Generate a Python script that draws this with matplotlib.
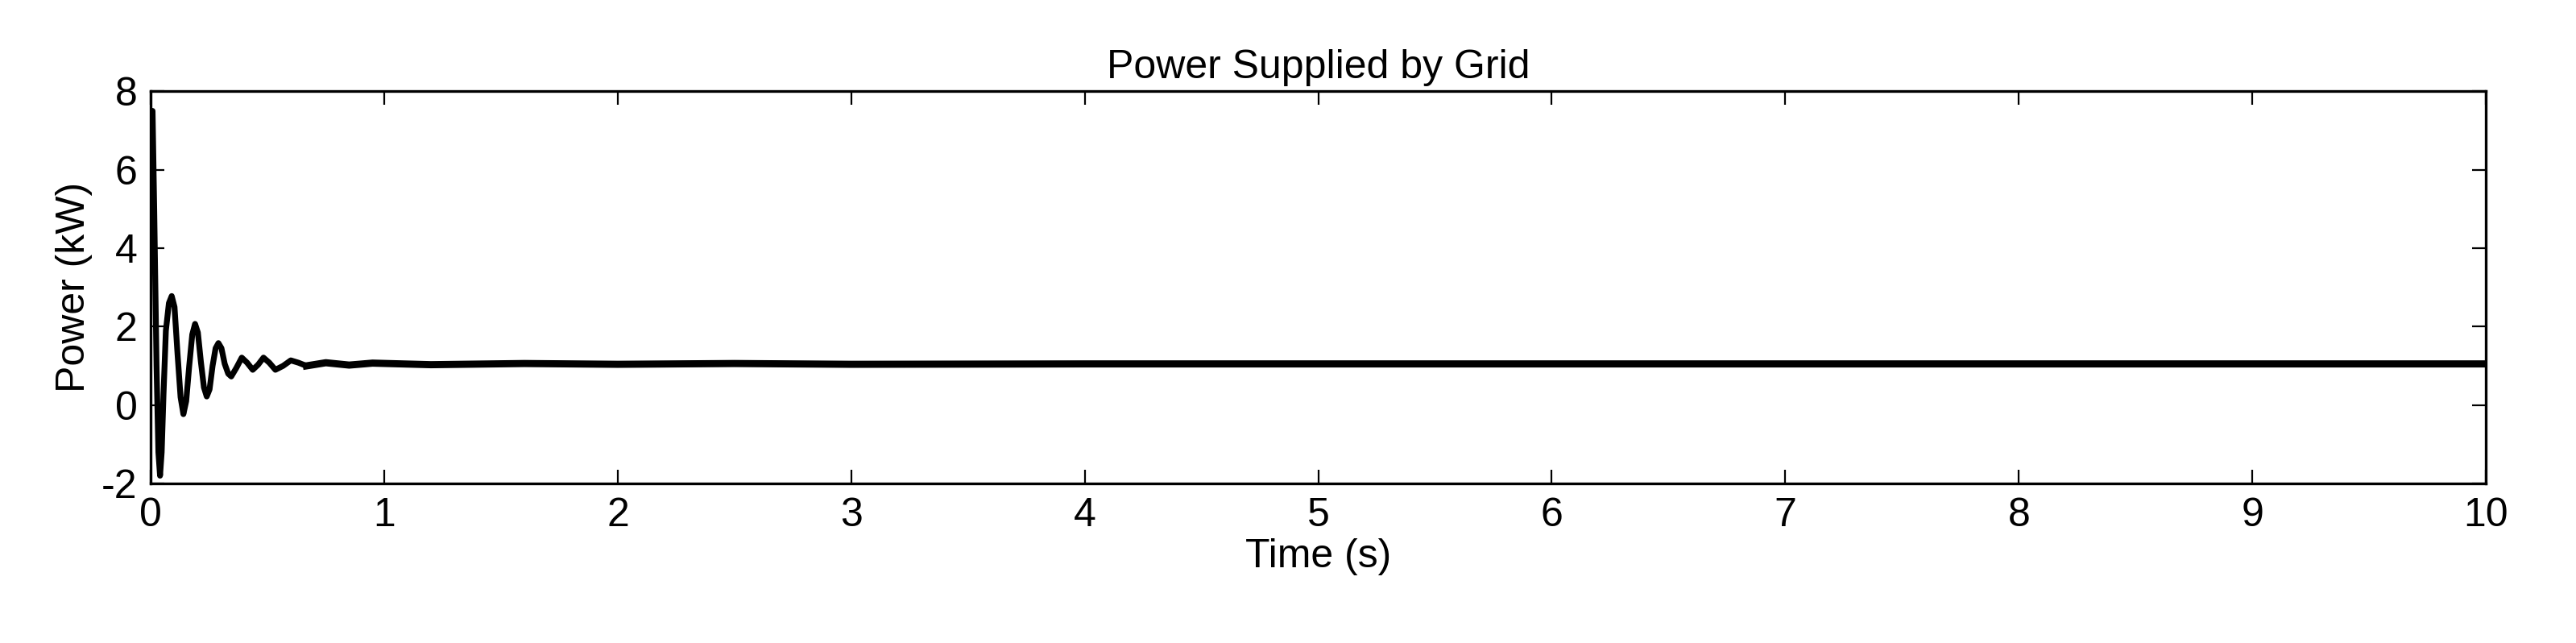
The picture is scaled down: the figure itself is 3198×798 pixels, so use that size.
import matplotlib
matplotlib.use("Agg")
import matplotlib.pyplot as plt

# transient (peaks, troughs and crossings), then settled level
time_s = [0.0, 0.008, 0.015, 0.025, 0.033, 0.04, 0.047, 0.055, 0.065, 0.078, 0.09,
          0.102, 0.115, 0.128, 0.14, 0.152, 0.165, 0.178, 0.19, 0.202, 0.215,
          0.228, 0.24, 0.252, 0.265, 0.278, 0.29, 0.303, 0.317, 0.332, 0.345,
          0.367, 0.39, 0.413, 0.437, 0.46, 0.483, 0.508, 0.534, 0.567, 0.6,
          0.633, 0.667, 0.75, 0.85, 0.95, 1.2, 1.6, 2.0, 2.5, 3.0,
          4.0, 5.0, 6.0, 7.0, 8.0, 9.0, 10.0]
power_kw = [7.5, 7.5, 5.0, 1.0, -1.2, -1.8, -1.2, 0.3, 1.9, 2.6, 2.78,
            2.5, 1.3, 0.2, -0.23, 0.1, 1.0, 1.8, 2.07, 1.85, 1.1, 0.45, 0.22,
            0.4, 1.0, 1.45, 1.58, 1.45, 1.05, 0.8, 0.73, 0.95, 1.21, 1.08, 0.9,
            1.03, 1.21, 1.08, 0.9, 1.0, 1.14, 1.08, 1.0, 1.08, 1.02, 1.07, 1.03,
            1.06, 1.04, 1.06, 1.04, 1.05, 1.05, 1.05, 1.05, 1.05, 1.05, 1.05]

plt.rcParams['font.family'] = ['Liberation Sans', 'DejaVu Sans']
plt.rcParams['axes.unicode_minus'] = False

fig = plt.figure(figsize=(15.99, 3.99), dpi=200)
ax = fig.add_axes([0.0585, 0.248, 0.9065, 0.610])
ax.plot(time_s, power_kw, color='black', linewidth=2.6)
ax.plot(time_s[42:], power_kw[42:], color='black', linewidth=3.2)
ax.set_xlim(0, 10)
ax.set_ylim(-2, 8)
ax.set_xticks(range(0, 11))
ax.set_yticks(range(-2, 9, 2))
ax.tick_params(direction='in', labelsize=18, length=6, top=True, right=True, pad=6)
ax.set_xlabel('Time (s)', fontsize=18, labelpad=2)
ax.set_ylabel('Power (kW)', fontsize=18, labelpad=4)
ax.set_title('Power Supplied by Grid', fontsize=18, pad=6)
for s in ax.spines.values():
    s.set_linewidth(1.2)

fig.savefig('out.png', dpi=200)
